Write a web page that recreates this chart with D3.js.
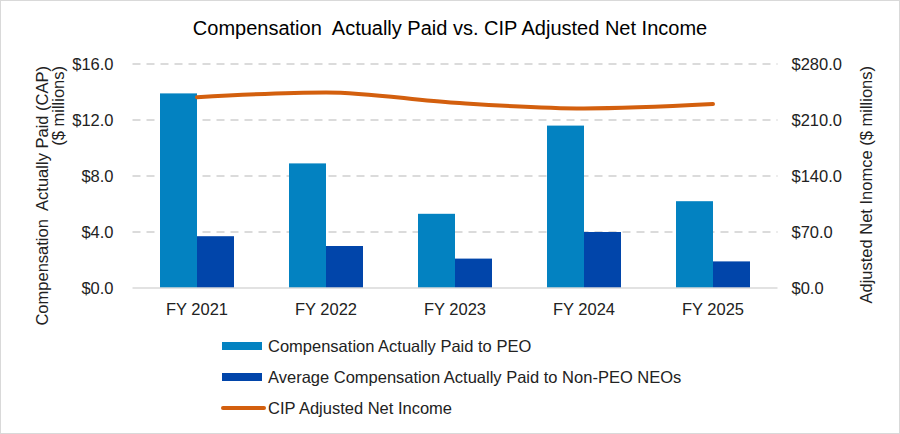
<!DOCTYPE html>
<html>
<head>
<meta charset="utf-8">
<script src="https://cdn.jsdelivr.net/npm/d3@7"></script>
<style>
  body { margin: 0; background: #fff; }
  svg { display: block; font-family: "Liberation Sans", Arial, sans-serif; }
  .pre { white-space: pre; }
</style>
</head>
<body>
<div id="chart"></div>
<script>
const years = ['FY 2021', 'FY 2022', 'FY 2023', 'FY 2024', 'FY 2025'];
const peoCap = [13.9, 8.9, 5.3, 11.6, 6.2];
const neoCap = [3.7, 3.0, 2.1, 4.0, 1.9];
const netIncome = [238.5, 244.5, 231.5, 224.5, 230.0];
const leftTicks = [0, 4, 8, 12, 16];
const rightTicks = [0, 70, 140, 210, 280];

const colors = { peo: '#0382C1', neo: '#0145AA', line: '#D35F0E', grid: '#D0D0D0', axis: '#D9D9D9', text: '#000' };

const W = 900, H = 434;
const plot = { left: 132.5, right: 777.5, top: 64, bottom: 288 };
const fs = 16.5;

const svg = d3.select('#chart').append('svg').attr('width', W).attr('height', H);

svg.append('rect').attr('x', 0.5).attr('y', 0.5).attr('width', W - 1).attr('height', H - 1)
  .attr('fill', '#fff').attr('stroke', '#D9D9D9');

const x = d3.scaleBand().domain(years).range([plot.left, plot.right]).paddingInner(0).paddingOuter(0);
const yL = d3.scaleLinear().domain([0, 16]).range([plot.bottom, plot.top]);
const yR = d3.scaleLinear().domain([0, 280]).range([plot.bottom, plot.top]);
const barW = 37;

// gridlines
svg.append('g').selectAll('line').data(leftTicks.filter(t => t > 0)).join('line')
  .attr('x1', plot.left).attr('x2', plot.right)
  .attr('y1', d => yL(d)).attr('y2', d => yL(d))
  .attr('stroke', colors.grid).attr('stroke-width', 1.5).attr('stroke-dasharray', '8,6');

// bars
const groups = svg.append('g').selectAll('g').data(years).join('g')
  .attr('transform', d => `translate(${x(d) + x.bandwidth() / 2},0)`);
groups.append('rect').attr('x', -barW).attr('width', barW)
  .attr('y', (d, i) => yL(peoCap[i])).attr('height', (d, i) => yL(0) - yL(peoCap[i]))
  .attr('fill', colors.peo);
groups.append('rect').attr('x', 0).attr('width', barW)
  .attr('y', (d, i) => yL(neoCap[i])).attr('height', (d, i) => yL(0) - yL(neoCap[i]))
  .attr('fill', colors.neo);

// baseline
svg.append('line').attr('x1', plot.left).attr('x2', plot.right)
  .attr('y1', plot.bottom).attr('y2', plot.bottom)
  .attr('stroke', colors.axis).attr('stroke-width', 1.5);

// line
const line = d3.line()
  .x((d, i) => x(years[i]) + x.bandwidth() / 2)
  .y(d => yR(d))
  .curve(d3.curveMonotoneX);
svg.append('path').datum(netIncome).attr('d', line)
  .attr('fill', 'none').attr('stroke', colors.line).attr('stroke-width', 4).attr('stroke-linecap', 'round');

// axes
const leftAxis = svg.append('g').attr('transform', `translate(${plot.left - 19},0)`)
  .call(d3.axisLeft(yL).tickValues(leftTicks).tickFormat(d => '$' + d3.format('.1f')(d)).tickSize(0).tickPadding(0));
const rightAxis = svg.append('g').attr('transform', `translate(${plot.right + 14},0)`)
  .call(d3.axisRight(yR).tickValues(rightTicks).tickFormat(d => '$' + d3.format('.1f')(d)).tickSize(0).tickPadding(0));
const bottomAxis = svg.append('g').attr('transform', `translate(0,${plot.bottom + 9})`)
  .call(d3.axisBottom(x).tickSize(0).tickPadding(6));
[leftAxis, rightAxis, bottomAxis].forEach(a => {
  a.select('.domain').remove();
  a.selectAll('text').attr('font-size', fs).attr('fill', '#222').attr('font-family', '"Liberation Sans", Arial, sans-serif');
});

// title
svg.append('text').attr('class', 'pre').attr('x', 450).attr('y', 35).attr('text-anchor', 'middle')
  .attr('font-size', 20).attr('fill', colors.text)
  .text('Compensation  Actually Paid vs. CIP Adjusted Net Income');

// axis titles
const lt = svg.append('text').attr('class', 'pre').attr('transform', 'translate(48,66) rotate(-90)')
  .attr('text-anchor', 'end').attr('font-size', fs).attr('fill', '#222');
lt.append('tspan').attr('x', 0).attr('dy', 0).text('Compensation  Actually Paid (CAP)');
lt.append('tspan').attr('x', 0).attr('dy', 16).text('($ millions)');

svg.append('text').attr('transform', 'translate(872,66) rotate(-90)')
  .attr('text-anchor', 'end').attr('font-size', fs).attr('fill', '#222')
  .text('Adjusted Net Inomce ($ millions)');

// legend
const legendItems = [
  { label: 'Compensation Actually Paid to PEO', color: colors.peo, type: 'bar' },
  { label: 'Average Compensation Actually Paid to Non-PEO NEOs', color: colors.neo, type: 'bar' },
  { label: 'CIP Adjusted Net Income', color: colors.line, type: 'line' }
];
const legend = svg.append('g').selectAll('g').data(legendItems).join('g')
  .attr('transform', (d, i) => `translate(222,${346 + i * 31})`);
legend.filter(d => d.type === 'bar').append('rect')
  .attr('x', 0).attr('y', -4).attr('width', 40).attr('height', 8).attr('fill', d => d.color);
legend.filter(d => d.type === 'line').append('line')
  .attr('x1', 1).attr('x2', 42).attr('y1', 0).attr('y2', 0)
  .attr('stroke', d => d.color).attr('stroke-width', 4).attr('stroke-linecap', 'round');
legend.append('text').attr('x', 46).attr('y', 6).attr('font-size', fs).attr('fill', '#222')
  .text(d => d.label);
</script>
</body>
</html>
